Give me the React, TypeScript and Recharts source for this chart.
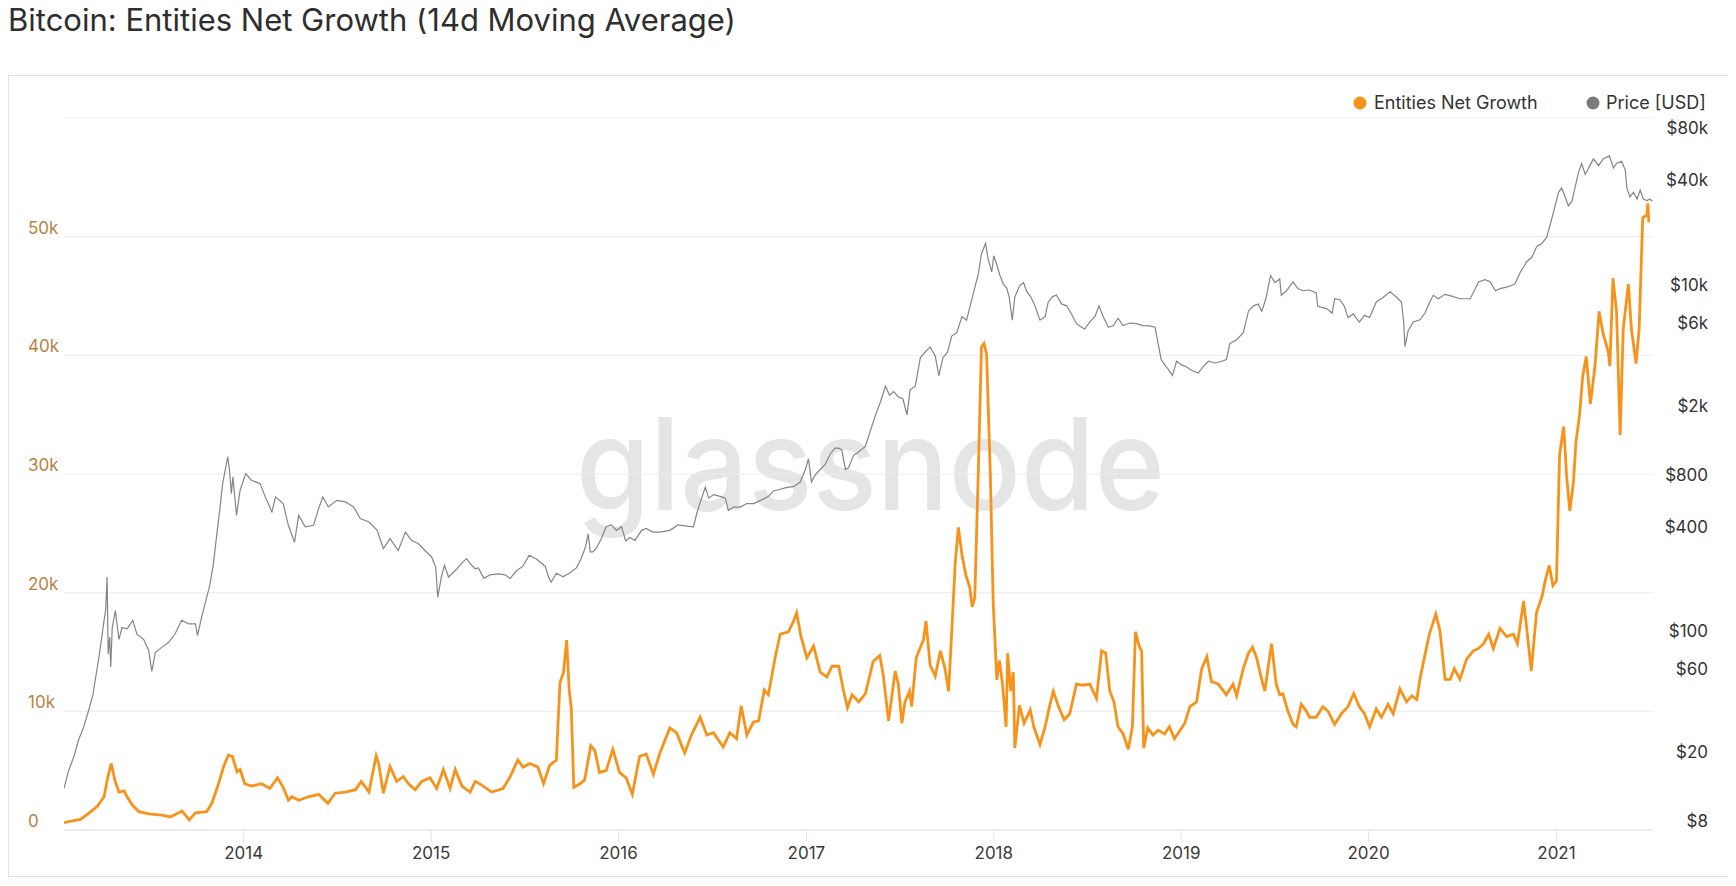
import React from "react";
import { LineChart, Line, XAxis, YAxis, CartesianGrid } from "recharts";

// Entities net growth (14d MA)
const growthDates = [
  "2013-01-16", "2013-02-01", "2013-02-17", "2013-03-05", "2013-03-22", "2013-04-04", "2013-04-11", "2013-04-18",
  "2013-04-25", "2013-05-03", "2013-05-13", "2013-05-19", "2013-05-29", "2013-06-11", "2013-06-30", "2013-07-26",
  "2013-08-11", "2013-09-03", "2013-09-17", "2013-09-29", "2013-10-21", "2013-10-31", "2013-11-13", "2013-11-23",
  "2013-12-02", "2013-12-10", "2013-12-19", "2013-12-25", "2014-01-03", "2014-01-16", "2014-02-05", "2014-02-21",
  "2014-03-08", "2014-03-19", "2014-03-29", "2014-04-05", "2014-04-18", "2014-05-07", "2014-05-27", "2014-06-14",
  "2014-06-28", "2014-07-18", "2014-08-07", "2014-08-18", "2014-09-02", "2014-09-16", "2014-09-21", "2014-09-30",
  "2014-10-13", "2014-10-26", "2014-11-08", "2014-11-18", "2014-12-01", "2014-12-14", "2014-12-30", "2015-01-12",
  "2015-01-25", "2015-02-07", "2015-02-17", "2015-03-02", "2015-03-18", "2015-03-28", "2015-04-09", "2015-04-29",
  "2015-05-21", "2015-06-03", "2015-06-19", "2015-06-29", "2015-07-12", "2015-07-28", "2015-08-08", "2015-08-20",
  "2015-09-02", "2015-09-09", "2015-09-16", "2015-09-22", "2015-09-27", "2015-10-01", "2015-10-06", "2015-10-18",
  "2015-10-27", "2015-11-08", "2015-11-16", "2015-11-25", "2015-12-08", "2015-12-21", "2016-01-03", "2016-01-16",
  "2016-01-28", "2016-02-11", "2016-02-24", "2016-03-09", "2016-03-21", "2016-04-10", "2016-04-23", "2016-05-09",
  "2016-05-22", "2016-06-08", "2016-06-21", "2016-07-04", "2016-07-23", "2016-08-05", "2016-08-18", "2016-08-27",
  "2016-09-07", "2016-09-20", "2016-09-30", "2016-10-11", "2016-10-19", "2016-11-01", "2016-11-11", "2016-11-27",
  "2016-12-07", "2016-12-13", "2016-12-21", "2017-01-02", "2017-01-15", "2017-01-28", "2017-02-10", "2017-02-20",
  "2017-03-05", "2017-03-14", "2017-03-22", "2017-03-31", "2017-04-13", "2017-04-26", "2017-05-11", "2017-05-24",
  "2017-05-31", "2017-06-10", "2017-06-23", "2017-06-29", "2017-07-06", "2017-07-12", "2017-07-21", "2017-07-25",
  "2017-08-03", "2017-08-11", "2017-08-17", "2017-08-22", "2017-08-30", "2017-09-09", "2017-09-19", "2017-09-28",
  "2017-10-05", "2017-10-11", "2017-10-18", "2017-10-24", "2017-10-31", "2017-11-08", "2017-11-15", "2017-11-20",
  "2017-11-25", "2017-12-02", "2017-12-08", "2017-12-13", "2017-12-18", "2017-12-25", "2017-12-31", "2018-01-07",
  "2018-01-12", "2018-01-18", "2018-01-25", "2018-01-28", "2018-02-03", "2018-02-08", "2018-02-11", "2018-02-20",
  "2018-03-01", "2018-03-13", "2018-03-20", "2018-04-01", "2018-04-11", "2018-04-20", "2018-04-27", "2018-05-07",
  "2018-05-18", "2018-05-29", "2018-06-11", "2018-06-24", "2018-07-07", "2018-07-20", "2018-07-30", "2018-08-07",
  "2018-08-15", "2018-08-23", "2018-08-31", "2018-09-10", "2018-09-20", "2018-09-28", "2018-10-04", "2018-10-12",
  "2018-10-16", "2018-10-20", "2018-10-28", "2018-11-07", "2018-11-17", "2018-11-30", "2018-12-09", "2018-12-19",
  "2019-01-02", "2019-01-08", "2019-01-18", "2019-01-31", "2019-02-10", "2019-02-20", "2019-03-01", "2019-03-14",
  "2019-03-30", "2019-04-12", "2019-04-19", "2019-05-02", "2019-05-12", "2019-05-20", "2019-05-28", "2019-06-07",
  "2019-06-13", "2019-06-20", "2019-06-26", "2019-07-05", "2019-07-12", "2019-07-18", "2019-07-28", "2019-08-07",
  "2019-08-13", "2019-08-23", "2019-09-02", "2019-09-08", "2019-09-21", "2019-10-04", "2019-10-14", "2019-10-27",
  "2019-11-09", "2019-11-22", "2019-12-03", "2019-12-14", "2019-12-24", "2020-01-03", "2020-01-16", "2020-01-26",
  "2020-02-08", "2020-02-18", "2020-03-02", "2020-03-15", "2020-03-25", "2020-04-04", "2020-04-10", "2020-04-20",
  "2020-04-29", "2020-05-11", "2020-05-19", "2020-05-29", "2020-06-08", "2020-06-16", "2020-06-27", "2020-07-10",
  "2020-07-23", "2020-08-02", "2020-08-12", "2020-08-22", "2020-08-31", "2020-09-13", "2020-09-26", "2020-10-09",
  "2020-10-17", "2020-10-29", "2020-11-05", "2020-11-13", "2020-11-23", "2020-12-04", "2020-12-10", "2020-12-18",
  "2020-12-25", "2021-01-01", "2021-01-07", "2021-01-15", "2021-01-21", "2021-01-27", "2021-02-03", "2021-02-08",
  "2021-02-15", "2021-02-21", "2021-02-28", "2021-03-08", "2021-03-17", "2021-03-25", "2021-04-02", "2021-04-12",
  "2021-04-15", "2021-04-21", "2021-04-28", "2021-05-05", "2021-05-11", "2021-05-21", "2021-05-27", "2021-06-05",
  "2021-06-11", "2021-06-18", "2021-06-26", "2021-06-28", "2021-06-30",
];
const growthValues = [
  620, 760, 900, 1400, 2000, 2800, 4400, 5600,
  4200, 3200, 3300, 2800, 2100, 1550, 1350, 1250,
  1100, 1600, 850, 1450, 1550, 2250, 3900, 5350,
  6300, 6200, 4900, 5100, 3900, 3700, 3900, 3500,
  4400, 3600, 2500, 2800, 2500, 2800, 3000, 2250,
  3100, 3200, 3400, 4100, 3200, 6250, 5600, 3100,
  5350, 4100, 4500, 3900, 3400, 4100, 4400, 3500,
  5100, 3500, 5100, 3700, 3200, 4100, 3800, 3200,
  3500, 4400, 5900, 5300, 5600, 5300, 3900, 5450,
  5900, 12400, 13300, 16000, 11800, 10300, 3600, 3900,
  4200, 7100, 6700, 4850, 5000, 6800, 4850, 4400,
  3000, 6200, 6400, 4700, 6400, 8600, 8200, 6500,
  8000, 9500, 8000, 8200, 7000, 8200, 7700, 10450,
  8000, 9100, 9200, 11800, 11400, 14500, 16500, 16700,
  17600, 18300, 16400, 14500, 15500, 13300, 12900, 13800,
  13800, 11800, 10300, 11400, 10800, 11500, 14200, 14700,
  12950, 9200, 13400, 12300, 9000, 10800, 11700, 10400,
  14500, 15400, 16000, 17600, 13900, 12950, 15100, 13600,
  11700, 16600, 22600, 25500, 23200, 21400, 20500, 18800,
  19600, 30400, 40700, 41000, 40100, 30400, 19000, 12650,
  14300, 12300, 8700, 14900, 11700, 13300, 6900, 10500,
  9000, 10100, 8700, 7200, 8700, 10500, 11700, 10400,
  9300, 9800, 12300, 12200, 12300, 11100, 15100, 14900,
  11700, 10800, 8700, 8100, 6800, 8700, 16700, 15400,
  15100, 6900, 8600, 8000, 8400, 8100, 8700, 7700,
  8600, 9000, 10400, 10800, 13600, 14600, 12500, 12300,
  11400, 12300, 11300, 13600, 14900, 15400, 14500, 12650,
  11700, 13900, 15700, 12300, 11400, 11500, 10000, 8900,
  8700, 10600, 10000, 9500, 9500, 10400, 10000, 8900,
  9800, 10400, 11500, 10400, 9800, 8700, 10200, 9500,
  10600, 9800, 11900, 10800, 11300, 11000, 12700, 14800,
  16600, 18200, 16800, 12700, 12700, 13600, 12700, 14400,
  15100, 15300, 15700, 16500, 15300, 17000, 16300, 16500,
  15700, 19300, 16600, 13400, 18300, 19700, 21000, 22300,
  20600, 21000, 31600, 34000, 29700, 26900, 29300, 32700,
  35000, 38200, 39900, 35900, 39100, 43700, 41800, 40300,
  39100, 46500, 43700, 33300, 42200, 46000, 42200, 39300,
  42200, 51600, 51800, 52800, 51200,
];

// BTC price in USD (log axis)
const priceDates = [
  "2013-01-16", "2013-01-25", "2013-02-04", "2013-02-13", "2013-02-23", "2013-03-05", "2013-03-13", "2013-03-22",
  "2013-03-28", "2013-04-04", "2013-04-07", "2013-04-10", "2013-04-12", "2013-04-15", "2013-04-17", "2013-04-20",
  "2013-04-26", "2013-05-03", "2013-05-09", "2013-05-19", "2013-05-30", "2013-06-07", "2013-06-20", "2013-06-30",
  "2013-07-06", "2013-07-13", "2013-07-26", "2013-08-08", "2013-08-20", "2013-09-02", "2013-09-16", "2013-09-29",
  "2013-10-03", "2013-10-11", "2013-10-21", "2013-10-27", "2013-11-03", "2013-11-09", "2013-11-16", "2013-11-21",
  "2013-11-26", "2013-12-01", "2013-12-05", "2013-12-08", "2013-12-11", "2013-12-18", "2013-12-25", "2014-01-05",
  "2014-01-16", "2014-02-02", "2014-02-12", "2014-02-25", "2014-03-04", "2014-03-19", "2014-03-29", "2014-04-10",
  "2014-04-18", "2014-05-01", "2014-05-17", "2014-05-27", "2014-06-04", "2014-06-15", "2014-07-01", "2014-07-18",
  "2014-08-03", "2014-08-16", "2014-09-02", "2014-09-18", "2014-09-30", "2014-10-13", "2014-10-29", "2014-11-12",
  "2014-11-24", "2014-12-07", "2014-12-20", "2015-01-02", "2015-01-10", "2015-01-14", "2015-01-21", "2015-01-27",
  "2015-02-04", "2015-02-17", "2015-03-01", "2015-03-11", "2015-03-21", "2015-03-28", "2015-04-03", "2015-04-14",
  "2015-04-26", "2015-05-12", "2015-05-25", "2015-06-04", "2015-06-17", "2015-06-29", "2015-07-11", "2015-07-25",
  "2015-08-11", "2015-08-19", "2015-08-23", "2015-09-02", "2015-09-15", "2015-09-27", "2015-10-11", "2015-10-20",
  "2015-10-29", "2015-11-03", "2015-11-07", "2015-11-12", "2015-11-19", "2015-11-28", "2015-12-08", "2015-12-18",
  "2015-12-28", "2016-01-07", "2016-01-15", "2016-01-23", "2016-02-02", "2016-02-15", "2016-02-24", "2016-03-08",
  "2016-03-21", "2016-04-10", "2016-04-26", "2016-05-13", "2016-05-26", "2016-06-02", "2016-06-11", "2016-06-18",
  "2016-06-25", "2016-07-04", "2016-07-17", "2016-07-27", "2016-08-02", "2016-08-12", "2016-08-25", "2016-09-07",
  "2016-09-20", "2016-10-06", "2016-10-19", "2016-10-29", "2016-11-11", "2016-11-24", "2016-12-07", "2016-12-20",
  "2016-12-30", "2017-01-05", "2017-01-11", "2017-01-18", "2017-01-28", "2017-02-07", "2017-02-17", "2017-02-26",
  "2017-03-05", "2017-03-11", "2017-03-18", "2017-03-24", "2017-04-03", "2017-04-13", "2017-04-26", "2017-05-06",
  "2017-05-15", "2017-05-25", "2017-06-04", "2017-06-12", "2017-06-20", "2017-06-29", "2017-07-08", "2017-07-16",
  "2017-07-22", "2017-08-01", "2017-08-11", "2017-08-20", "2017-08-30", "2017-09-09", "2017-09-16", "2017-09-24",
  "2017-10-03", "2017-10-11", "2017-10-21", "2017-10-31", "2017-11-09", "2017-11-16", "2017-11-25", "2017-12-02",
  "2017-12-08", "2017-12-16", "2017-12-21", "2017-12-28", "2018-01-01", "2018-01-07", "2018-01-13", "2018-01-20",
  "2018-01-26", "2018-01-31", "2018-02-06", "2018-02-11", "2018-02-20", "2018-02-28", "2018-03-06", "2018-03-14",
  "2018-03-22", "2018-04-01", "2018-04-11", "2018-04-17", "2018-04-25", "2018-05-03", "2018-05-13", "2018-05-23",
  "2018-06-02", "2018-06-11", "2018-06-21", "2018-06-27", "2018-07-07", "2018-07-17", "2018-07-25", "2018-08-02",
  "2018-08-12", "2018-08-22", "2018-08-31", "2018-09-10", "2018-09-23", "2018-10-06", "2018-10-19", "2018-11-01",
  "2018-11-11", "2018-11-17", "2018-11-23", "2018-11-30", "2018-12-08", "2018-12-15", "2018-12-23", "2019-01-02",
  "2019-01-11", "2019-01-21", "2019-02-03", "2019-02-13", "2019-02-23", "2019-03-08", "2019-03-21", "2019-03-30",
  "2019-04-06", "2019-04-19", "2019-05-02", "2019-05-12", "2019-05-22", "2019-05-31", "2019-06-07", "2019-06-15",
  "2019-06-24", "2019-07-03", "2019-07-12", "2019-07-15", "2019-07-25", "2019-08-07", "2019-08-16", "2019-08-26",
  "2019-09-08", "2019-09-21", "2019-09-24", "2019-10-11", "2019-10-22", "2019-10-27", "2019-11-06", "2019-11-15",
  "2019-11-22", "2019-12-02", "2019-12-14", "2019-12-24", "2020-01-03", "2020-01-16", "2020-01-29", "2020-02-12",
  "2020-02-25", "2020-03-05", "2020-03-09", "2020-03-12", "2020-03-18", "2020-03-28", "2020-04-10", "2020-04-20",
  "2020-04-29", "2020-05-06", "2020-05-16", "2020-05-29", "2020-06-11", "2020-06-27", "2020-07-17", "2020-07-27",
  "2020-08-02", "2020-08-15", "2020-08-25", "2020-09-04", "2020-09-13", "2020-09-26", "2020-10-12", "2020-10-22",
  "2020-11-04", "2020-11-14", "2020-11-24", "2020-12-03", "2020-12-13", "2020-12-19", "2020-12-26", "2021-01-05",
  "2021-01-11", "2021-01-18", "2021-01-24", "2021-01-31", "2021-02-06", "2021-02-13", "2021-02-19", "2021-02-26",
  "2021-03-07", "2021-03-14", "2021-03-24", "2021-04-02", "2021-04-14", "2021-04-22", "2021-04-28", "2021-05-08",
  "2021-05-15", "2021-05-18", "2021-05-24", "2021-05-31", "2021-06-07", "2021-06-13", "2021-06-19", "2021-06-26",
  "2021-07-02", "2021-07-07",
];
const priceValues = [
  13.9, 17.6, 21.1, 26.3, 31.3, 39.2, 47.9, 69.9,
  91.3, 130, 148, 231, 83, 104, 70, 118,
  148, 101, 118, 116, 130, 108, 101, 87,
  66, 85, 91, 97, 108, 130, 124, 124,
  106, 135, 177, 207, 276, 393, 587, 800,
  957, 1142, 914, 701, 875, 525, 733, 914,
  837, 800, 671, 549, 671, 613, 460, 367,
  525, 450, 460, 574, 671, 587, 641, 628,
  587, 503, 480, 430, 337, 385, 329, 420,
  376, 361, 329, 302, 264, 177, 231, 270,
  231, 252, 276, 295, 270, 258, 261, 227,
  238, 241, 238, 227, 252, 267, 309, 294,
  267, 227, 216, 243, 232, 243, 261, 294,
  347, 410, 323, 323, 339, 382, 451, 462,
  430, 451, 373, 391, 376, 430, 441, 420,
  420, 430, 462, 455, 451, 545, 660, 761,
  660, 692, 676, 660, 559, 586, 586, 614,
  614, 645, 676, 726, 743, 761, 769, 817,
  966, 1113, 817, 899, 966, 1037, 1195, 1284,
  1284, 1253, 966, 988, 1166, 1224, 1315, 1630,
  1969, 2360, 2923, 2594, 2722, 2535, 2473, 1996,
  2786, 2923, 4275, 4590, 4928, 4375, 3367, 4275,
  4590, 5688, 5957, 7377, 7036, 8510, 10797, 13050,
  16950, 19540, 15780, 13370, 16560, 14690, 12740, 11320,
  10800, 9590, 7036, 9590, 11060, 11590, 10300, 9590,
  8510, 7036, 7377, 8930, 9590, 9820, 8730, 8510,
  7550, 6710, 6400, 6250, 6870, 7377, 8510, 7377,
  6400, 6545, 7210, 6545, 6770, 6710, 6545, 6515,
  6400, 5167, 4170, 3880, 3615, 3366, 4073, 3880,
  3790, 3615, 3480, 3790, 4073, 3980, 4073, 4170,
  5167, 5420, 5957, 7925, 8510, 8730, 7925, 9350,
  12740, 11590, 12160, 9790, 10400, 11700, 10700, 10400,
  10500, 10100, 8450, 8200, 7730, 9350, 9230, 8450,
  7280, 7640, 6860, 7500, 7280, 8960, 9510, 10270,
  9510, 8960, 7070, 4940, 6090, 6860, 7070, 7730,
  8960, 9790, 9350, 9910, 9680, 9350, 9350, 10700,
  11700, 12060, 11700, 10400, 10700, 10900, 11370, 13200,
  15300, 16230, 18830, 19400, 21200, 24600, 29400, 38500,
  40800, 36200, 32200, 34100, 40800, 50200, 56500, 48800,
  54900, 60000, 54900, 60000, 62500, 53300, 56500, 58200,
  51700, 40800, 36200, 38500, 35200, 39600, 35200, 34500,
  35200, 34100,
];

const xStart = Date.parse("2013-01-16");
const xEnd = Date.parse("2021-07-08");
const yearTicks = ["2014", "2015", "2016", "2017", "2018", "2019", "2020", "2021"];
const growthTicks = [0, 10000, 20000, 30000, 40000, 50000, 60000];
const priceTicks = [8, 20, 60, 100, 400, 800, 2000, 6000, 10000, 40000, 80000];

const growthData = growthDates.map((d, i) => ({ t: Date.parse(d), v: growthValues[i] }));
const priceData = priceDates.map((d, i) => ({ t: Date.parse(d), v: priceValues[i] }));

const FONT = "Inter, 'Noto Sans', sans-serif";
const ORANGE = "#f7931a";
const GRAY = "#858585";

function formatPrice(v: number) {
  return v >= 1000 ? `$${v / 1000}k` : `$${v}`;
}

function GrowthTick(props: any) {
  const { y, payload } = props;
  if (payload.value >= 60000) return null;
  const label = payload.value === 0 ? "0" : `${payload.value / 1000}k`;
  return (
    <text x={20} y={y - 3} fill="#b7823f" fontSize={17} fontFamily={FONT} textAnchor="start">
      {label}
    </text>
  );
}

function PriceTick(props: any) {
  const { y, payload } = props;
  return (
    <text x={1700} y={y - 3} fill="#333" fontSize={17} fontFamily={FONT} textAnchor="end">
      {formatPrice(payload.value)}
    </text>
  );
}

function YearTick(props: any) {
  const { x, payload } = props;
  return (
    <text x={x} y={851} fill="#3a3a3a" fontSize={17} fontFamily={FONT} textAnchor="middle">
      {new Date(payload.value).getUTCFullYear()}
    </text>
  );
}

export default function App() {
  return (
    <div style={{ position: "relative", width: 1728, height: 872, fontFamily: FONT }}>
      <div
        style={{
          position: "absolute",
          left: 0,
          top: -6,
          fontSize: 31,
          lineHeight: "36px",
          color: "#2e2e2e",
          whiteSpace: "nowrap",
        }}
      >
        Bitcoin: Entities Net Growth (14d Moving Average)
      </div>
      <div
        style={{
          position: "absolute",
          left: 0,
          top: 67,
          width: 1722,
          height: 800,
          border: "1px solid #e2e2e2",
          background: "#fff",
        }}
      />
      <svg width={1728} height={872} style={{ position: "absolute", left: 0, top: 0 }}>
        <text
          x={568}
          y={502}
          fontSize={128}
          fontWeight={500}
          fontFamily={FONT}
          fill="#e5e5e5"
          textLength={589}
          lengthAdjust="spacingAndGlyphs"
        >
          glassnode
        </text>
      </svg>
      <div style={{ position: "absolute", left: 0, top: 0 }}>
        <LineChart width={1728} height={870} margin={{ top: 110, right: 0, bottom: 0, left: 0 }}>
          <CartesianGrid vertical={false} stroke="#ececec" />
          <XAxis
            dataKey="t"
            type="number"
            domain={[xStart, xEnd]}
            allowDataOverflow
            ticks={yearTicks.map((y) => Date.parse(`${y}-01-01`))}
            interval={0}
            height={48}
            axisLine={{ stroke: "#e3e3e3" }}
            tickLine={{ stroke: "#e3e3e3" }}
            tickSize={12}
            tick={YearTick}
          />
          <YAxis
            orientation="left"
            width={56}
            domain={[0, 60000]}
            ticks={growthTicks}
            interval={0}
            axisLine={false}
            tickLine={false}
            tick={GrowthTick}
          />
          <YAxis
            yAxisId="price"
            orientation="right"
            width={83}
            scale="log"
            domain={[8, 103400]}
            allowDataOverflow
            ticks={priceTicks}
            interval={0}
            axisLine={false}
            tickLine={false}
            tick={PriceTick}
          />
          <Line
            data={growthData}
            dataKey="v"
            type="linear"
            stroke={ORANGE}
            strokeWidth={2.8}
            dot={false}
            isAnimationActive={false}
          />
          <Line
            data={priceData}
            yAxisId="price"
            dataKey="v"
            type="linear"
            stroke={GRAY}
            strokeWidth={1.2}
            dot={false}
            isAnimationActive={false}
          />
        </LineChart>
      </div>
      <svg width={1728} height={872} style={{ position: "absolute", left: 0, top: 0, pointerEvents: "none" }}>
        <circle cx={1352} cy={95} r={6.5} fill={ORANGE} />
        <text x={1366} y={101} fontSize={18} fontFamily={FONT} fill="#333">
          Entities Net Growth
        </text>
        <circle cx={1585} cy={95} r={6.5} fill="#7b7b7b" />
        <text x={1598} y={101} fontSize={18} fontFamily={FONT} fill="#333">
          Price [USD]
        </text>
      </svg>
    </div>
  );
}
